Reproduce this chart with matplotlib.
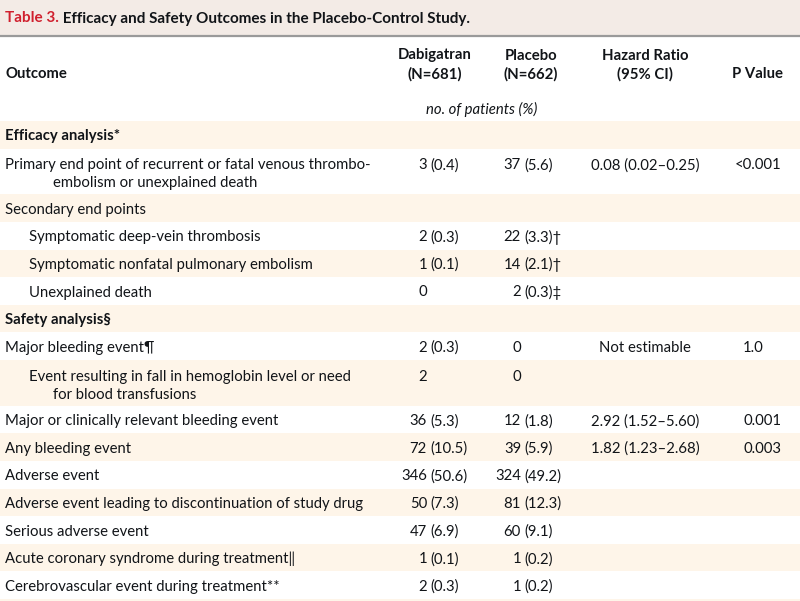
import matplotlib.pyplot as plt
from matplotlib.patches import Rectangle

plt.rcParams['font.family'] = ['Lato', 'DejaVu Sans']

# table content
outcomes = [
    "Efficacy analysis*",
    "Primary end point of recurrent or fatal venous thrombo-\nembolism or unexplained death",
    "Secondary end points",
    "Symptomatic deep-vein thrombosis",
    "Symptomatic nonfatal pulmonary embolism",
    "Unexplained death",
    "Safety analysis§",
    "Major bleeding event¶",
    "Event resulting in fall in hemoglobin level or need\nfor blood transfusions",
    "Major or clinically relevant bleeding event",
    "Any bleeding event",
    "Adverse event",
    "Adverse event leading to discontinuation of study drug",
    "Serious adverse event",
    "Acute coronary syndrome during treatment‖",
    "Cerebrovascular event during treatment**",
]
indent = [0, 0, 0, 1, 1, 1, 0, 0, 1, 0, 0, 0, 0, 0, 0, 0]
is_section = [1, 0, 0, 0, 0, 0, 1, 0, 0, 0, 0, 0, 0, 0, 0, 0]

dabigatran = ["", "3 (0.4)", "", "2 (0.3)", "1 (0.1)", "0", "", "2 (0.3)", "2",
              "36 (5.3)", "72 (10.5)", "346 (50.6)", "50 (7.3)", "47 (6.9)",
              "1 (0.1)", "2 (0.3)"]
placebo = ["", "37 (5.6)", "", "22 (3.3)†", "14 (2.1)†", "2 (0.3)‡", "", "0", "0",
           "12 (1.8)", "39 (5.9)", "324 (49.2)", "81 (12.3)", "60 (9.1)",
           "1 (0.2)", "1 (0.2)"]
hazard_ratio = ["", "0.08 (0.02–0.25)", "", "", "", "", "", "Not estimable", "",
                "2.92 (1.52–5.60)", "1.82 (1.23–2.68)", "", "", "", "", ""]
p_value = ["", "<0.001", "", "", "", "", "", "1.0", "", "0.001", "0.003",
           "", "", "", "", ""]

title_num = "Table 3."
title_text = " Efficacy and Safety Outcomes in the Placebo-Control Study."

# styling
cream = '#fef5e9'
title_bg = '#f3ebe6'
ink = '#111418'
red = '#d0202e'
fs = 10.7
fs_title = 11.0
dy = 1.5  # small downward nudge so glyphs sit like the original

fig = plt.figure(figsize=(8, 6.01), dpi=100)
ax = fig.add_axes([0, 0, 1, 1])
ax.set_xlim(0, 800)
ax.set_ylim(601, 0)
ax.axis('off')

# title bar
ax.add_patch(Rectangle((0, 0), 800, 35, color=title_bg, lw=0))
ax.plot([0, 800], [35.5, 35.5], color='#9a9a9a', lw=1.6)
t1 = ax.text(5, 17 + dy, title_num, color=red, fontsize=fs_title, fontweight='bold',
             va='center', ha='left')
fig.canvas.draw()
bb = t1.get_window_extent().transformed(ax.transData.inverted())
ax.text(bb.x1, 17 + dy, title_text, color=ink, fontsize=fs_title, fontweight='bold',
        va='center', ha='left')

# column header
ax.text(5, 72 + dy, "Outcome", fontsize=fs, fontweight='bold', color=ink, va='center')
for cx, l1, l2 in [(435, "Dabigatran", "(N=681)"), (531, "Placebo", "(N=662)"),
                   (645, "Hazard Ratio", "(95% CI)")]:
    ax.text(cx, 54 + dy, l1, fontsize=fs, fontweight='bold', color=ink, ha='center', va='center')
    ax.text(cx, 73 + dy, l2, fontsize=fs, fontweight='bold', color=ink, ha='center', va='center')
ax.text(757, 73 + dy, "P Value", fontsize=fs, fontweight='bold', color=ink, ha='center', va='center')
ax.text(482, 108 + dy, "no. of patients (%)", fontsize=fs, style='italic', color=ink,
        ha='center', va='center')

# body rows
h1 = 27.6
gap = 18.2
y = 121
for i, name in enumerate(outcomes):
    lines = name.split('\n')
    h = h1 + gap * (len(lines) - 1)
    if i % 2 == 0:
        ax.add_patch(Rectangle((0, y), 800, h, color=cream, lw=0))
    ty = y + (h1 / 2 if len(lines) == 1 else 15) + dy
    wt = 'bold' if is_section[i] else 'normal'
    x0 = 5 + 24 * indent[i]
    ax.text(x0, ty, lines[0], fontsize=fs, fontweight=wt, color=ink, va='center')
    for k, ln in enumerate(lines[1:], start=1):
        ax.text(53, ty + gap * k, ln, fontsize=fs, fontweight=wt, color=ink, va='center')

    for val, xr in [(dabigatran[i], 427), (placebo[i], 521)]:
        if not val:
            continue
        parts = val.split(' ', 1)
        ax.text(xr, ty, parts[0], fontsize=fs, color=ink, ha='right', va='center')
        if len(parts) > 1:
            ax.text(xr + 3, ty, parts[1], fontsize=fs, color=ink, ha='left', va='center')
    if hazard_ratio[i]:
        ax.text(645, ty, hazard_ratio[i], fontsize=fs, color=ink, ha='center', va='center')
    if p_value[i]:
        px = 735 if p_value[i].startswith('<') else 743
        ax.text(px, ty, p_value[i], fontsize=fs, color=ink, ha='left', va='center')
    y += h

ax.add_patch(Rectangle((0, y), 800, 10, color=cream, lw=0))

fig.savefig('out.png', dpi=100)
